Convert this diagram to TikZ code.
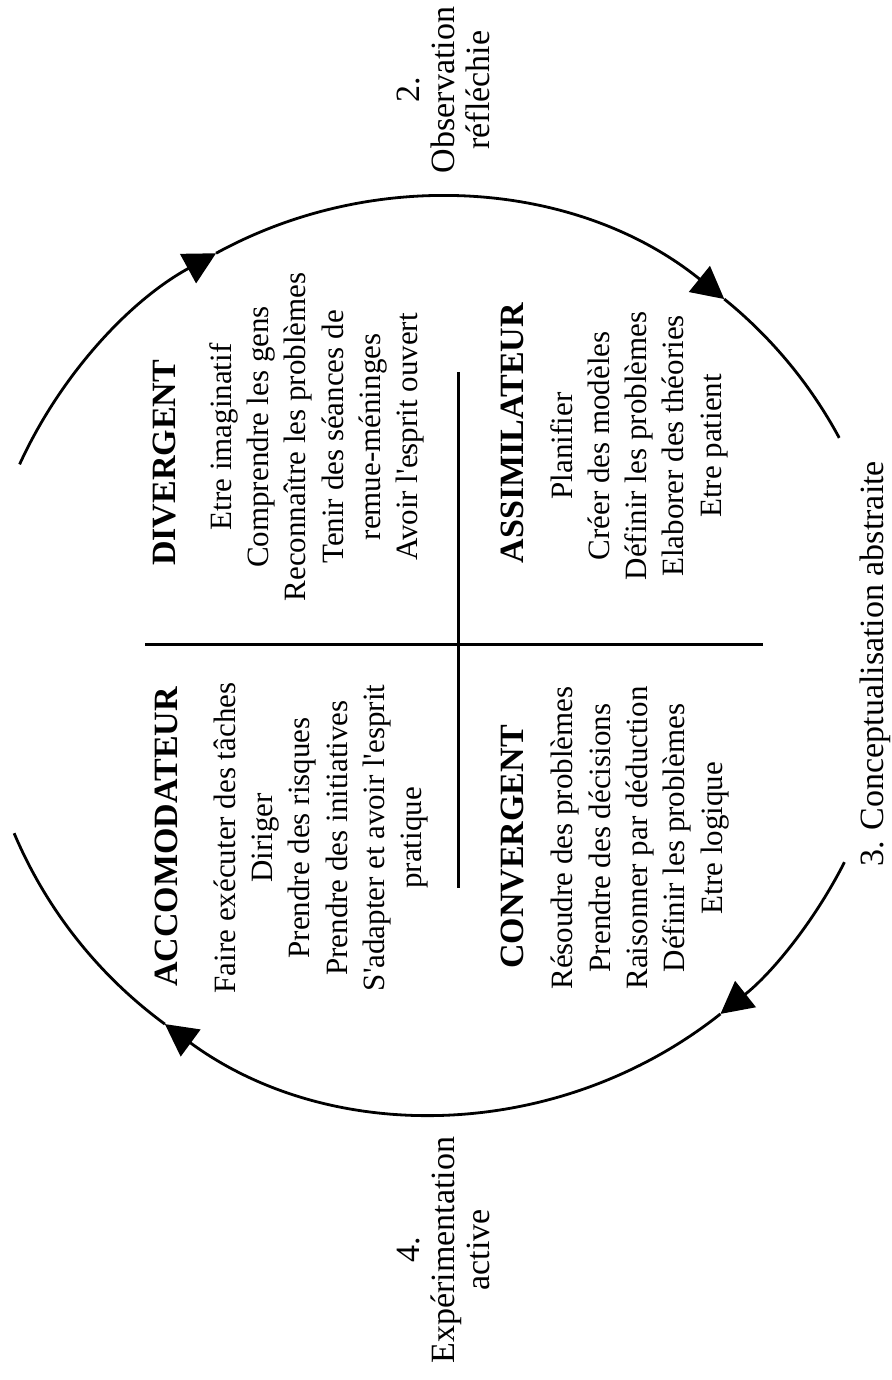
\documentclass[tikz,border=0pt]{standalone}
\usepackage{fontspec}
\setmainfont{Liberation Serif}[Ligatures=TeXOff]
\usetikzlibrary{arrows.meta,calc}
\begin{document}
\begin{tikzpicture}[x=0.5pt,y=0.5pt,
  cyc/.style={line width=1.4pt},
  cycarrow/.style={line width=1.4pt,-{Triangle[length=16pt,width=16.5pt]}},
  crossline/.style={line width=1.5pt},
  bodytext/.style={rotate=90,align=center,inner sep=0pt,font=\fontsize{15.5}{18.65}\selectfont},
  titletext/.style={rotate=90,anchor=base,inner sep=0pt,font=\fontsize{17}{20}\selectfont\bfseries},
  phasetext/.style={rotate=90,align=center,inner sep=0pt,font=\fontsize{17}{17.5}\selectfont}]
\useasboundingbox (0,0) rectangle (892,1380);
\coordinate (O) at (436,725);
% points on the cycle
\coordinate (u0) at ($(O)+(155.4:458)$);
\coordinate (u1) at ($(O)+(118.7:458)$);
\coordinate (u2) at ($(O)+(51:458)$);
\coordinate (l0) at ($(O)+(-26.9:458)$);
\coordinate (l1) at ($(O)+(-51.6:458)$);
\coordinate (l2) at ($(O)+(-126.3:458)$);
% upper arc
\draw[cycarrow] (u0) arc[start angle=155.4, end angle=118.7, radius=229pt];
\draw[cycarrow] (u1) arc[start angle=118.7, end angle=51, radius=229pt];
\draw[cyc] (u2) arc[start angle=51, end angle=28.3, radius=229pt];
% lower arc
\draw[cycarrow] (l0) arc[start angle=-26.9, end angle=-51.6, radius=229pt];
\draw[cycarrow] (l1) arc[start angle=-51.6, end angle=-126.3, radius=229pt];
\draw[cyc] (l2) arc[start angle=-126.3, end angle=-157.1, radius=229pt];
% cross
\coordinate (vtop) at (458,1008);
\coordinate (vbot) at (458,492);
\coordinate (hl) at (145,735);
\coordinate (hr) at (763,735);
\draw[crossline] (vtop) -- (vbot);
\draw[crossline] (hl) -- (hr);
% titles
\node[titletext] (tdiv) at (175,917) {DIVERGENT};
\node[titletext] (tacc) at (177,543) {ACCOMODATEUR};
\node[titletext] (tcon) at (523,533) {CONVERGENT};
\node[titletext] (tass) at (523,947) {ASSIMILATEUR};
% bodies
\node[bodytext] (bdiv) at (317,943) {Etre imaginatif\\Comprendre les gens\\Reconnaître les problèmes\\Tenir des séances de\\remue-méninges\\Avoir l'esprit ouvert};
\node[bodytext] (bacc) at (321,542) {Faire exécuter des tâches\\Diriger\\Prendre des risques\\Prendre des initiatives\\S'adapter et avoir l'esprit\\pratique};
\node[bodytext] (bcon) at (640,542) {Résoudre des problèmes\\Prendre des décisions\\Raisonner par déduction\\Définir les problèmes\\Etre logique};
\node[bodytext] (bass) at (639,934) {Planifier\\Créer des modèles\\Définir les problèmes\\Elaborer des théories\\Etre patient};
% phases
\node[phasetext] (ph2) at (443.5,1290) {2.\\Observation\\réfléchie};
\node[phasetext] (ph4) at (443.5,130) {4.\\Expérimentation\\active};
\node[phasetext,anchor=base,align=left] (ph3) at (883,716) {3. Conceptualisation abstraite};
\end{tikzpicture}
\end{document}
